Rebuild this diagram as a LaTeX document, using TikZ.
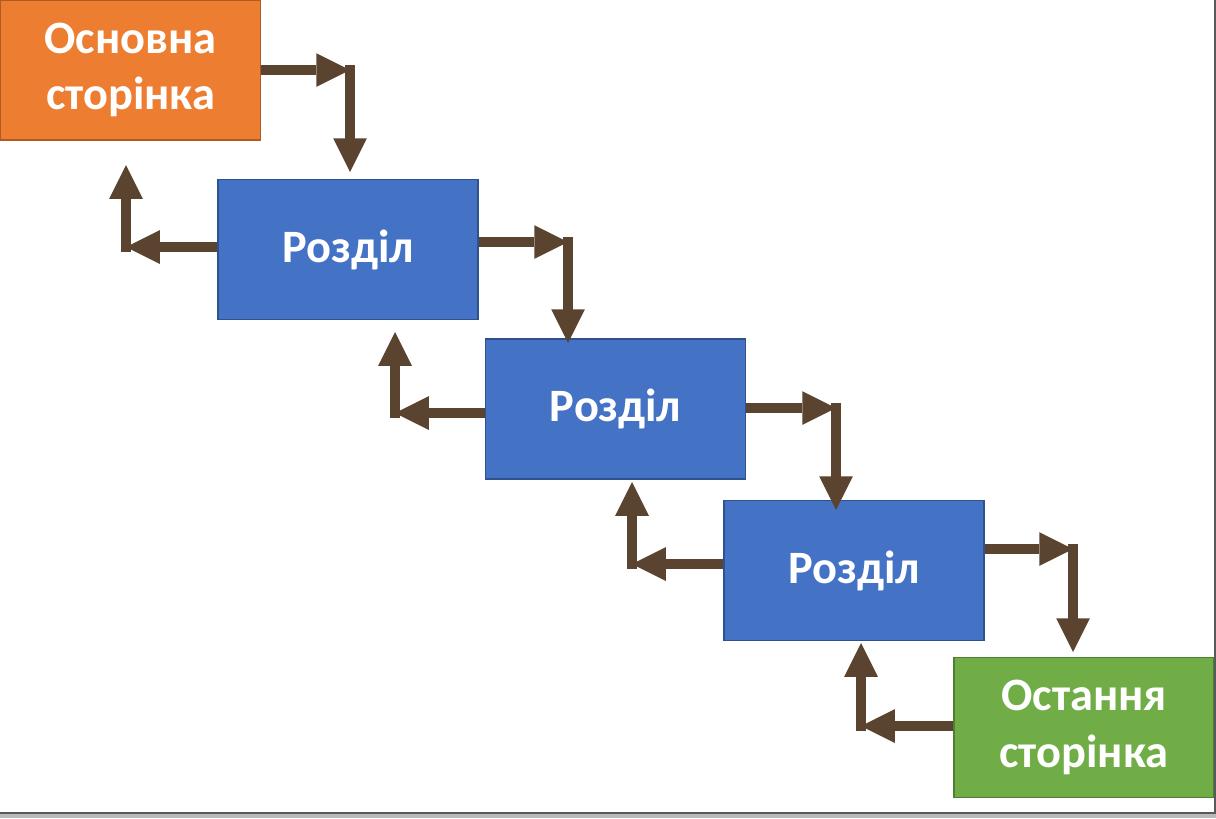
\documentclass[tikz,border=0pt]{standalone}
\usepackage{fontspec}
\setmainfont{Carlito}
\usetikzlibrary{arrows.meta}

\definecolor{pageorange}{HTML}{ED7D31}
\definecolor{pageorangeline}{HTML}{AE5A21}
\definecolor{partblue}{HTML}{4472C4}
\definecolor{partblueline}{HTML}{2F528F}
\definecolor{pagegreen}{HTML}{70AD47}
\definecolor{pagegreenline}{HTML}{507E32}
\definecolor{linkbrown}{HTML}{5A4430}

\begin{document}
\begin{tikzpicture}[x=0.025cm,y=-0.025cm,
    every text node part/.style={align=center},
    pagebox/.style={draw,line width=1pt,minimum width=6.5cm,minimum height=3.5cm,inner sep=0pt,
        text=white,font=\bfseries\fontsize{33}{40}\selectfont},
    link/.style={draw=linkbrown,line width=7.8pt,-{Triangle[length=24pt,width=24pt,line width=0pt]}}]
    \useasboundingbox (0,0) rectangle (1216,818);

    \node[pagebox,fill=pageorange,draw=pageorangeline] (S0) at (130.5,70) {Основна\\сторінка};
    \node[pagebox,fill=partblue,draw=partblueline] (S1) at (348,249.5) {Розділ};
    \node[pagebox,fill=partblue,draw=partblueline] (S2) at (615.5,409) {Розділ};
    \node[pagebox,fill=partblue,draw=partblueline] (S3) at (854,570.5) {Розділ};
    \node[pagebox,fill=pagegreen,draw=pagegreenline] (S4) at (1084,727.5) {Остання\\сторінка};

    % forward links
    \coordinate (F1) at (350,70);   \coordinate (T1) at (350,172);
    \coordinate (F2) at (568,242);  \coordinate (T2) at (568,343);
    \coordinate (F3) at (836,408);  \coordinate (T3) at (836,510);
    \coordinate (F4) at (1073,549); \coordinate (T4) at (1073,652);

    \draw[link] (S0.east |- F1) -- (F1);
    \draw[link,line cap=rect] (F1) -- (T1);
    \draw[link] (S1.east |- F2) -- (F2);
    \draw[link,line cap=rect] (F2) -- (T2);
    \draw[link] (S2.east |- F3) -- (F3);
    \draw[link,line cap=rect] (F3) -- (T3);
    \draw[link] (S3.east |- F4) -- (F4);
    \draw[link,line cap=rect] (F4) -- (T4);

    % back links
    \coordinate (B1) at (126,247);  \coordinate (U1) at (126,165);
    \coordinate (B2) at (395,413);  \coordinate (U2) at (395,332);
    \coordinate (B3) at (632,564);  \coordinate (U3) at (632,482);
    \coordinate (B4) at (861,726);  \coordinate (U4) at (861,643);

    \draw[link] (S1.west |- B1) -- (B1);
    \draw[link,line cap=rect] (B1) -- (U1);
    \draw[link] (S2.west |- B2) -- (B2);
    \draw[link,line cap=rect] (B2) -- (U2);
    \draw[link] (S3.west |- B3) -- (B3);
    \draw[link,line cap=rect] (B3) -- (U3);
    \draw[link] (S4.west |- B4) -- (B4);
    \draw[link,line cap=rect] (B4) -- (U4);

    % page edge
    \draw[gray!70!black,line width=0.8pt] (1215,0) -- (1215,813);
    \fill[gray!55] (0,813) rectangle (1216,818);
    \draw[gray!70!black,line width=0.8pt] (0,813) -- (1216,813);
\end{tikzpicture}
\end{document}
